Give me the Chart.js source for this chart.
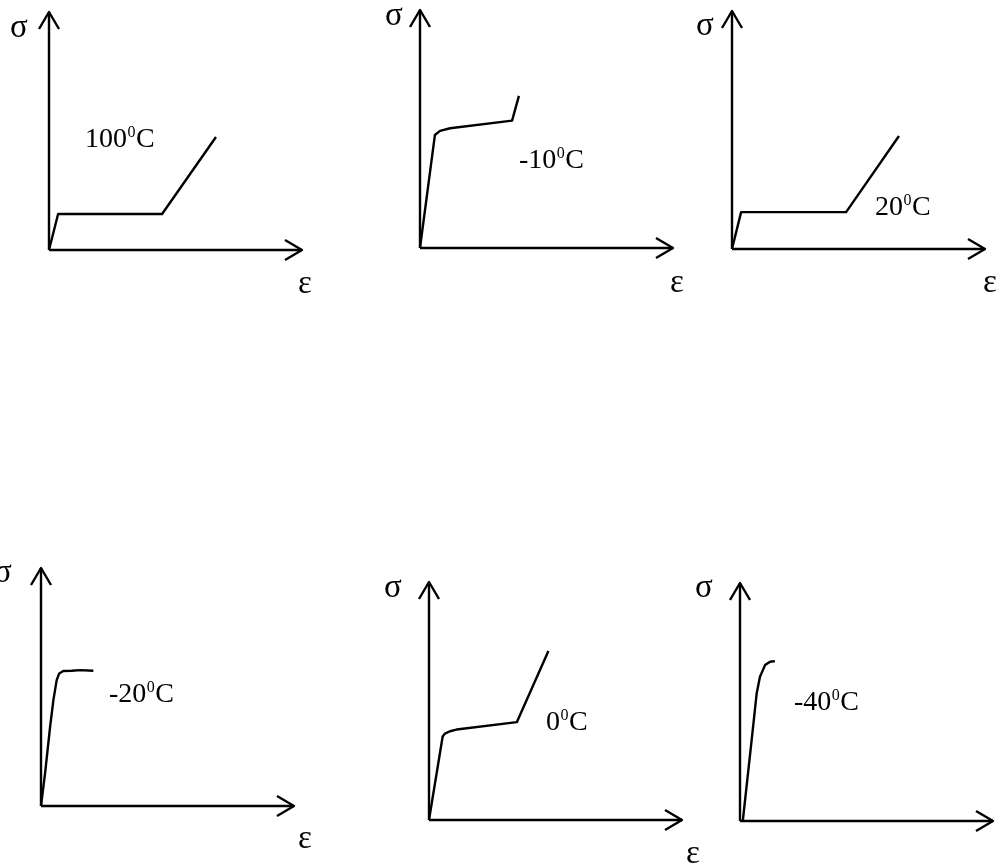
<!DOCTYPE html>
<html>
<head>
<meta charset="utf-8">
<title>σ–ε diagrams at different temperatures</title>
<script src="https://cdn.jsdelivr.net/npm/chart.js@4.4.1/dist/chart.umd.min.js"></script>
<style>
  html, body { margin: 0; padding: 0; background: #fff; }
  #sheet { position: relative; width: 1000px; height: 867px; overflow: hidden; background: #fff; }
  #sheet canvas { position: absolute; }
</style>
</head>
<body>
<div id="sheet"></div>
<script>
// Test temperatures, one diagram each (°C)
const temperatures = ['100', '-10', '20', '-20', '0', '-40'];

// Strain / stress readings per temperature, in relative axis units (0..100)
const strain100 = [0, 3.6, 44.7, 66.0];
const stress100 = [0, 15.1, 15.1, 47.5];

const strainM10 = [0, 5.9, 7.9, 11.9, 36.4, 39.1];
const stressM10 = [0, 47.5, 49.2, 50.3, 53.5, 63.9];

const strain20 = [0, 3.6, 45.1, 66.0];
const stress20 = [0, 15.5, 15.5, 47.5];

const strainM20 = [0, 1.6, 3.6, 4.9, 6.2, 7.2, 8.8, 12.1, 15.4, 20.7];
const stressM20 = [0, 13.7, 33.3, 44.5, 52.9, 55.7, 56.7, 56.8, 57.1, 56.8];

const strain0 = [0, 5.4, 6.3, 8.3, 10.9, 34.7, 47.2];
const stress0 = [0, 35.1, 36.3, 37.3, 38.0, 41.1, 71.0];

const strainM40 = [1.1, 4.6, 6.6, 7.9, 9.9, 11.9, 13.8];
const stressM40 = [0, 34.0, 53.7, 60.6, 65.5, 66.9, 67.2];

const strainSeries = [strain100, strainM10, strain20, strainM20, strain0, strainM40];
const stressSeries = [stress100, stressM10, stress20, stressM20, stress0, stressM40];

// Axis range (arrow tips sit at the max)
const AXIS_MAX = 100;

// Page layout: origin of each diagram and label offsets (px from the origin)
const PLOT_W = 253, PLOT_H = 238;
const PAD = { left: 60, right: 30, top: 20, bottom: 60 };
const panels = [
  { ox: 49,  oy: 250, temp: [36, -103],  sigma: [-30, -213], eps: [256, 43] },
  { ox: 420, oy: 248, temp: [99, -80],   sigma: [-26, -223], eps: [257, 44] },
  { ox: 732, oy: 249, temp: [143, -34],  sigma: [-27, -214], eps: [258, 43] },
  { ox: 41,  oy: 806, temp: [68, -104],  sigma: [-38, -224], eps: [264, 42] },
  { ox: 429, oy: 820, temp: [117, -90],  sigma: [-36, -223], eps: [264, 43] },
  { ox: 740, oy: 821, temp: [54, -111],  sigma: [-36, -224], eps: [266, 43] }
];

const FONT = '"Liberation Serif", "Times New Roman", serif';
const LINE_W = 2.4;

// Draws the arrowed axes, σ / ε symbols and the temperature label
const sketchAxes = {
  id: 'sketchAxes',
  afterDatasetsDraw(chart, args, opts) {
    const { ctx } = chart;
    const xs = chart.scales.x, ys = chart.scales.y;
    const x0 = xs.getPixelForValue(0), y0 = ys.getPixelForValue(0);
    const xEnd = xs.getPixelForValue(AXIS_MAX), yEnd = ys.getPixelForValue(AXIS_MAX);

    ctx.save();
    ctx.strokeStyle = '#000';
    ctx.lineWidth = LINE_W;
    ctx.lineJoin = 'round';
    ctx.lineCap = 'butt';

    ctx.beginPath();
    ctx.moveTo(x0, y0); ctx.lineTo(xEnd, y0);
    ctx.moveTo(x0, y0); ctx.lineTo(x0, yEnd);
    ctx.stroke();

    ctx.beginPath();
    ctx.moveTo(xEnd - 17, y0 - 10); ctx.lineTo(xEnd, y0); ctx.lineTo(xEnd - 17, y0 + 10);
    ctx.moveTo(x0 - 10, yEnd + 17); ctx.lineTo(x0, yEnd); ctx.lineTo(x0 + 10, yEnd + 17);
    ctx.stroke();

    ctx.fillStyle = '#000';
    ctx.textBaseline = 'alphabetic';
    ctx.font = '33px ' + FONT;
    ctx.textAlign = 'center';
    ctx.fillText('σ', x0 + opts.sigma[0], y0 + opts.sigma[1]);
    ctx.fillText('ε', x0 + opts.eps[0], y0 + opts.eps[1]);

    // temperature, e.g. 100⁰C with a raised degree zero
    ctx.textAlign = 'left';
    const tx = x0 + opts.temp[0], ty = y0 + opts.temp[1];
    ctx.font = '28px ' + FONT;
    ctx.fillText(opts.label, tx, ty);
    let w = ctx.measureText(opts.label).width;
    ctx.font = '16px ' + FONT;
    ctx.fillText('0', tx + w + 0.5, ty - 10);
    w += ctx.measureText('0').width + 1;
    ctx.font = '28px ' + FONT;
    ctx.fillText('C', tx + w, ty);
    ctx.restore();
  }
};

const sheet = document.getElementById('sheet');
const CW = PAD.left + PLOT_W + PAD.right;
const CH = PAD.top + PLOT_H + PAD.bottom;

panels.forEach((p, i) => {
  const canvas = document.createElement('canvas');
  canvas.width = CW; canvas.height = CH;
  canvas.style.width = CW + 'px'; canvas.style.height = CH + 'px';
  canvas.style.left = (p.ox - PAD.left) + 'px';
  canvas.style.top = (p.oy - PLOT_H - PAD.top) + 'px';
  sheet.appendChild(canvas);

  const pts = strainSeries[i].map((e, k) => ({ x: e, y: stressSeries[i][k] }));

  new Chart(canvas, {
    type: 'scatter',
    data: {
      datasets: [{
        label: temperatures[i] + '°C',
        data: pts,
        showLine: true,
        borderColor: '#000',
        borderWidth: LINE_W,
        pointRadius: 0,
        tension: 0,
        clip: 6,
        borderJoinStyle: 'round'
      }]
    },
    options: {
      responsive: false,
      animation: false,
      devicePixelRatio: 1,
      layout: { padding: PAD },
      scales: {
        x: { type: 'linear', min: 0, max: AXIS_MAX, display: false },
        y: { type: 'linear', min: 0, max: AXIS_MAX, display: false }
      },
      plugins: {
        legend: { display: false },
        tooltip: { enabled: false },
        sketchAxes: { label: temperatures[i], temp: p.temp, sigma: p.sigma, eps: p.eps }
      }
    },
    plugins: [sketchAxes]
  });
});
</script>
</body>
</html>
